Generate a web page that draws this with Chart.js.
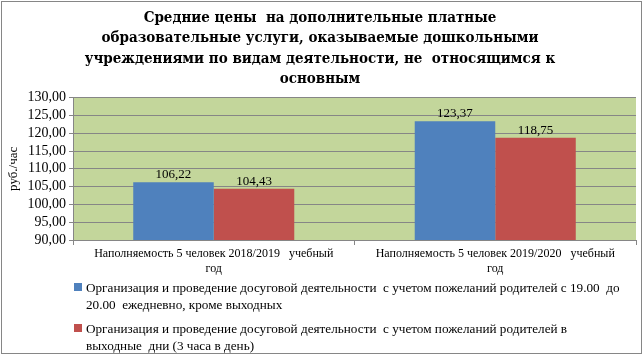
<!DOCTYPE html>
<html>
<head>
<meta charset="utf-8">
<script src="https://cdn.jsdelivr.net/npm/chart.js@4.4.1/dist/chart.umd.min.js"></script>
<style>
  body { margin: 0; background: #fff; }
  #wrap { position: relative; width: 643px; height: 355px; }
  #legend { position: absolute; left: 74px; top: 279px; width: 565px;
    font-family: "Liberation Serif", serif; font-size: 13.2px; color: #000; line-height: 17px; }
  .item { position: relative; padding-left: 12px; margin-bottom: 7px; }
  .box { position: absolute; left: 0; top: 4px; width: 8px; height: 8px; }
</style>
</head>
<body>
<div id="wrap">
  <canvas id="myChart" width="643" height="355"></canvas>
  <div id="legend"></div>
</div>
<script>
// donnees
const categories = [
  ["Наполняемость 5 человек 2018/2019   учебный", "год"],
  ["Наполняемость 5 человек 2019/2020   учебный", "год"]
];
const serie1Nom = ["Организация и проведение досуговой деятельности  с учетом пожеланий родителей с 19.00  до", "20.00  ежедневно, кроме выходных"];
const serie2Nom = ["Организация и проведение досуговой деятельности  с учетом пожеланий родителей в", "выходные  дни (3 часа в день)"];
const serie1 = [106.22, 123.37];
const serie2 = [104.43, 118.75];
const titre = [
  "Средние цены  на дополнительные платные",
  "образовательные услуги, оказываемые дошкольными",
  "учреждениями по видам деятельности, не  относящимся к",
  "основным"
];
const yMin = 90, yMax = 130, yPas = 5;

const bleu = '#4F81BD';
const rouge = '#C0504D';
const police = 'Liberation Serif';

function virgule(v) {
  return Number(v).toFixed(2).replace('.', ',');
}

// fond vert de la zone de tracé + cadre gris autour
const fondPlugin = {
  id: 'fond',
  beforeDraw(chart) {
    const ctx = chart.ctx, a = chart.chartArea;
    ctx.save();
    ctx.fillStyle = '#fff';
    ctx.fillRect(0, 0, chart.width, chart.height);
    ctx.fillStyle = '#C3D69B';
    ctx.fillRect(a.left, a.top, a.right - a.left, a.bottom - a.top);
    ctx.strokeStyle = '#868686';
    ctx.lineWidth = 1;
    ctx.strokeRect(1.5, 1.5, chart.width - 3, chart.height - 3);
    ctx.restore();
  }
};

// valeurs au-dessus des barres
const etiquettesPlugin = {
  id: 'etiquettes',
  afterDatasetsDraw(chart) {
    const ctx = chart.ctx;
    ctx.save();
    ctx.font = '13px "' + police + '"';
    ctx.fillStyle = '#000';
    ctx.textAlign = 'center';
    ctx.textBaseline = 'bottom';
    chart.data.datasets.forEach(function(ds, i) {
      chart.getDatasetMeta(i).data.forEach(function(bar, j) {
        ctx.fillText(virgule(ds.data[j]), bar.x, bar.y - 1);
      });
    });
    ctx.restore();
  }
};

const ctx = document.getElementById('myChart').getContext('2d');
const chartPrix = new Chart(ctx, {
  type: 'bar',
  data: {
    labels: categories,
    datasets: [
      { label: serie1Nom.join(' '), data: serie1, backgroundColor: bleu, barPercentage: 1, categoryPercentage: 0.572 },
      { label: serie2Nom.join(' '), data: serie2, backgroundColor: rouge, barPercentage: 1, categoryPercentage: 0.572 }
    ]
  },
  options: {
    responsive: false,
    animation: false,
    layout: { padding: { left: 4, right: 7, top: 2, bottom: 79 } },
    plugins: {
      legend: { display: false },
      tooltip: { enabled: false },
      title: {
        display: true,
        text: titre,
        color: '#000',
        font: { family: 'DejaVu Serif Condensed', size: 15, weight: 'bold', lineHeight: 1.36 },
        padding: { top: 6, bottom: 8 }
      }
    },
    scales: {
      x: {
        offset: true,
        grid: { display: true, drawOnChartArea: false, offset: true, color: '#868686', tickLength: 5 },
        border: { color: '#868686' },
        ticks: { color: '#000', font: { family: police, size: 12 }, maxRotation: 0, padding: 2 },
        afterFit: function(s) { s.height = 36; }
      },
      y: {
        min: yMin, max: yMax,
        ticks: { stepSize: yPas, autoSkip: false, color: '#000', font: { family: police, size: 14 }, padding: 3,
          callback: function(v) { return virgule(v); } },
        grid: { color: '#868686', tickLength: 4 },
        border: { color: '#868686' },
        title: { display: true, text: 'руб./час', color: '#000', font: { family: police, size: 13 }, padding: 2 },
        afterFit: function(s) { s.width = 69; }
      }
    }
  },
  plugins: [fondPlugin, etiquettesPlugin]
});

// légende en HTML (texte sur deux lignes comme l'original)
const leg = document.getElementById('legend');
[[serie1Nom, bleu], [serie2Nom, rouge]].forEach(function(s) {
  const d = document.createElement('div');
  d.className = 'item';
  d.innerHTML = '<span class="box" style="background:' + s[1] + '"></span>' + s[0].join('<br>').replace(/  /g, '&nbsp; ');
  leg.appendChild(d);
});
</script>
</body>
</html>
